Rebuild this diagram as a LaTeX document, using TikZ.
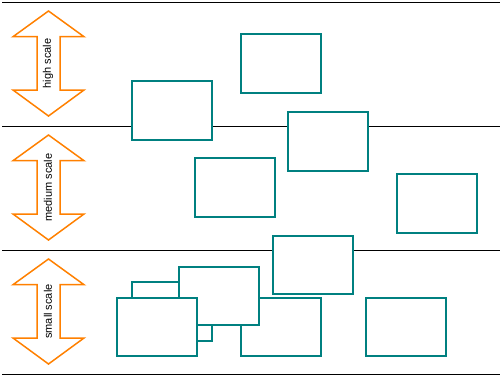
\documentclass[tikz,border=0pt]{standalone}
\usepackage{fontspec}
\setmainfont{Liberation Sans}
\definecolor{boxteal}{RGB}{0,128,128}
\definecolor{arroworange}{RGB}{255,128,0}
\tikzset{
  blk/.style={draw=boxteal, line width=2pt, fill=white, minimum width=80pt,
    minimum height=58.5pt, inner sep=0pt, outer sep=0pt},
  divider/.style={line width=1pt},
  scalelabel/.style={rotate=90, font=\fontsize{11}{13}\selectfont},
  pics/scalearrow/.style={code={
    \draw[draw=arroworange, line width=1.5pt, line join=miter]
      (0,-52.5) -- (35.5,-26.8) -- (11.5,-26.8) -- (11.5,26.5) -- (35.5,26.5)
      -- (0,52.5) -- (-35.5,26.5) -- (-11.5,26.5) -- (-11.5,-26.8)
      -- (-35.5,-26.8) -- cycle;
    \node[scalelabel] (-label) at (-0.5,0) {#1};
  }}
}
\begin{document}
\begin{tikzpicture}[x=1pt, y=-1pt]
  \useasboundingbox (0,0) rectangle (500,389);

  % band dividers
  \draw[divider] (2,2.3) -- (500,2.3);
  \draw[divider] (2,126.5) -- (500,126.5);
  \draw[divider] (2,250.5) -- (500,250.5);
  \draw[divider] (2,374.3) -- (500,374.3);

  % scale arrows
  \pic (high) at (48.5,63.5) {scalearrow={high scale}};
  \pic (medium) at (48.5,187.5) {scalearrow={medium scale}};
  \pic (small) at (48.5,311.5) {scalearrow={small scale}};

  % high scale boxes
  \node[blk] (high1) at (281,63.5) {};
  \node[blk] (high2) at (172,110.5) {};

  % medium scale boxes
  \node[blk] (medium1) at (328,141.5) {};
  \node[blk] (medium2) at (234.5,187.5) {};
  \node[blk] (medium3) at (437,203.5) {};
  \node[blk] (medium4) at (312.5,265) {};

  % small scale boxes, back to front
  \node[blk] (small1) at (406,327) {};
  \node[blk] (small2) at (172,311.5) {};
  \node[blk] (small3) at (281,327) {};
  \node[blk] (small4) at (219,296) {};
  \node[blk] (small5) at (156.5,327) {};
\end{tikzpicture}
\end{document}
